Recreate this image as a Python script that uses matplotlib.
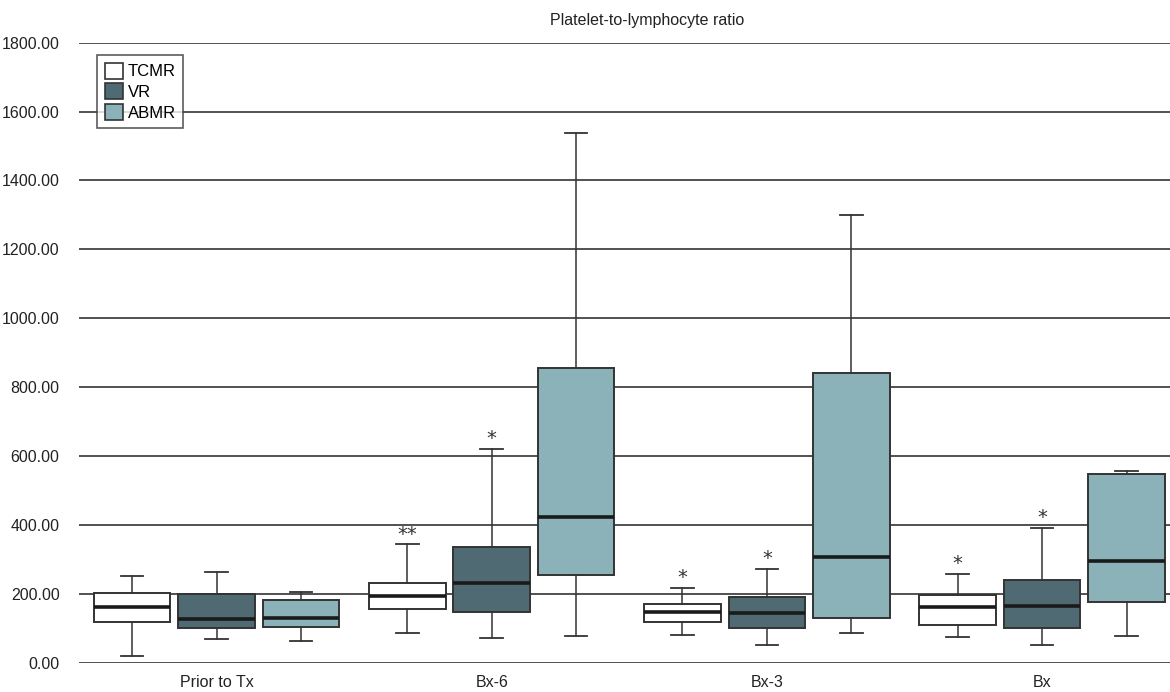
import numpy as np
import matplotlib.pyplot as plt
from matplotlib.patches import Patch

# Data: one value per time point, for each group
timepoints = ['Prior to Tx', 'Bx-6', 'Bx-3', 'Bx']
groups = ['TCMR', 'VR', 'ABMR']
colors = ['#ffffff', '#4f6a72', '#8ab2b8']

whislo = {'TCMR': [20, 85, 81, 75],
          'VR':   [68, 72, 50, 50],
          'ABMR': [62, 78, 85, 78]}
q1 = {'TCMR': [119, 157, 119, 110],
      'VR':   [102, 146, 102, 100],
      'ABMR': [104, 256, 131, 176]}
med = {'TCMR': [161, 194, 148, 161],
       'VR':   [126, 231, 145, 165],
       'ABMR': [130, 423, 308, 296]}
q3 = {'TCMR': [202, 232, 171, 197],
      'VR':   [199, 335, 190, 241],
      'ABMR': [181, 857, 840, 549]}
whishi = {'TCMR': [253, 344, 218, 258],
          'VR':   [263, 620, 273, 391],
          'ABMR': [205, 1539, 1299, 557]}

# significance marks above whiskers
stars = {'TCMR': ['', '**', '*', '*'],
         'VR':   ['', '*', '*', '*'],
         'ABMR': ['', '', '', '']}

yticks = [0, 200, 400, 600, 800, 1000, 1200, 1400, 1600, 1800]

plt.rcParams['font.family'] = ['Liberation Sans', 'DejaVu Sans']

fig = plt.figure(figsize=(11.7, 6.92), dpi=100)
ax = fig.add_axes([79 / 1170, (692 - 662.7) / 692, 1 - 79 / 1170, (662.7 - 42.7) / 692])

# horizontal gridlines drawn behind the boxes
for t in yticks:
    ax.axhline(t, color='#222222', lw=1.1, zorder=0)

offset = 0.307
width = 0.278
x = np.arange(len(timepoints))

for k, g in enumerate(groups):
    stats = []
    for i in range(len(timepoints)):
        stats.append({'whislo': whislo[g][i], 'q1': q1[g][i], 'med': med[g][i],
                      'q3': q3[g][i], 'whishi': whishi[g][i], 'fliers': []})
    pos = x + (k - 1) * offset
    ax.bxp(stats, positions=pos, widths=width, capwidths=0.082, patch_artist=True,
           showfliers=False, manage_ticks=False,
           boxprops=dict(facecolor=colors[k], edgecolor='#333333', linewidth=1.4),
           medianprops=dict(color='#1a1a1a', linewidth=2.6),
           whiskerprops=dict(color='#333333', linewidth=1.1),
           capprops=dict(color='#333333', linewidth=1.3))
    for i in range(len(timepoints)):
        if stars[g][i]:
            ax.text(pos[i], whishi[g][i] + 2, stars[g][i], ha='center', va='bottom',
                    fontsize=14, color='#333333', family='DejaVu Sans')

ax.set_xlim(-0.5, 3.465)
ax.set_ylim(0, 1800)
ax.set_yticks(yticks)
ax.set_yticklabels(['%.2f' % t for t in yticks], fontsize=11.5, color='#222222')
ax.set_xticks(x)
ax.set_xticklabels(timepoints, fontsize=11.5, color='#222222')
ax.tick_params(length=0, pad=14)
ax.tick_params(axis='x', pad=9)
for s in ['top', 'right', 'left', 'bottom']:
    ax.spines[s].set_visible(False)

fig.text(647 / 1170, 1 - 20 / 692, 'Platelet-to-lymphocyte ratio', ha='center', va='center',
         fontsize=11.5, color='#222222')

handles = [Patch(facecolor=c, edgecolor='#333333', linewidth=1.2) for c in colors]
leg = ax.legend(handles, groups, loc='upper left', bbox_to_anchor=(0.0165, 0.98),
                fontsize=12, frameon=True, fancybox=False, borderpad=0.45,
                handlelength=1.1, handleheight=1.1, handletextpad=0.3, labelspacing=0.25,
                borderaxespad=0)
leg.get_frame().set_edgecolor('#333333')
leg.get_frame().set_linewidth(1.2)

fig.savefig('out.png', dpi=100)
